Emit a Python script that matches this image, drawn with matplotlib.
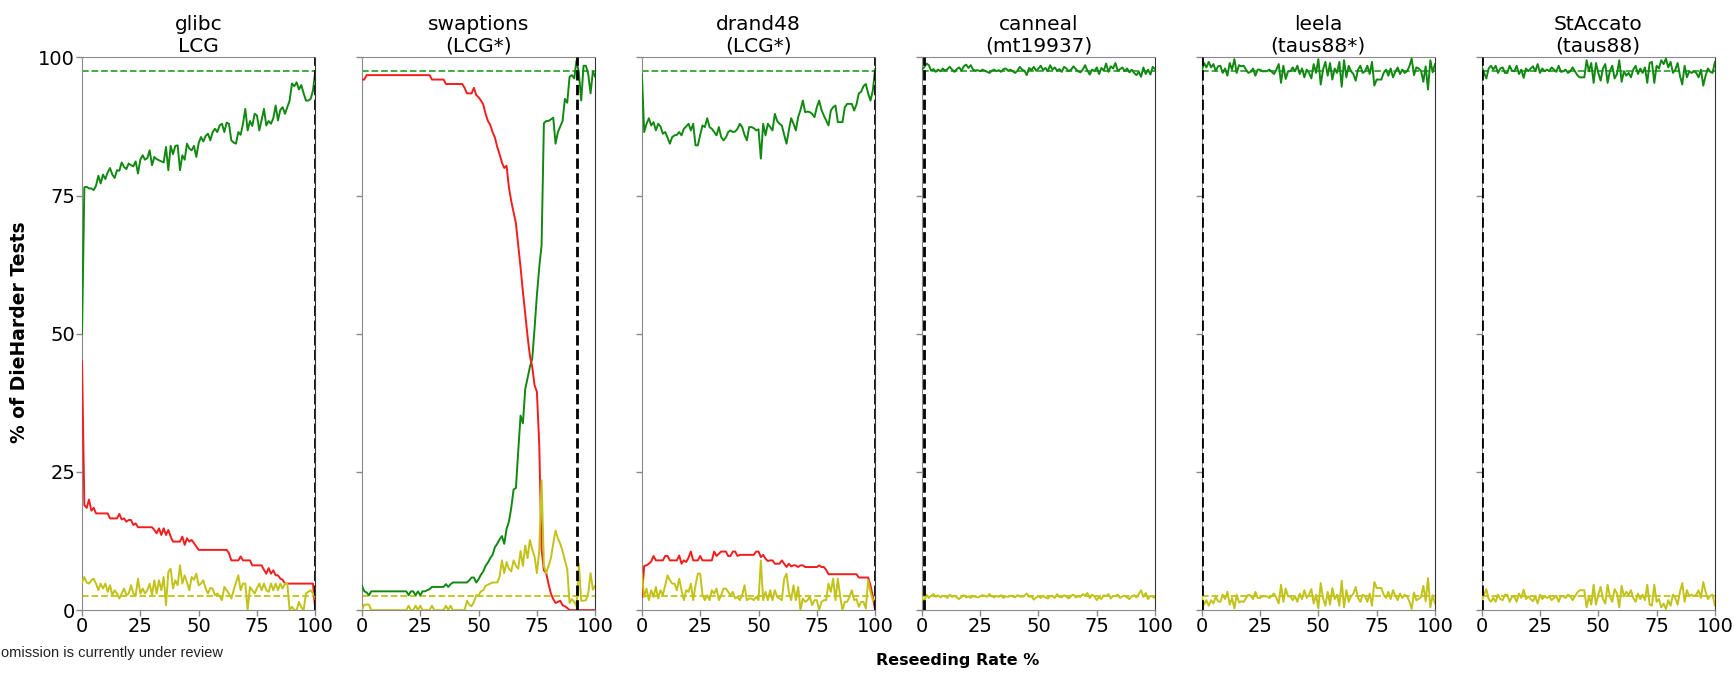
import numpy as np
import matplotlib
matplotlib.use("Agg")
import matplotlib.pyplot as plt

# ---------------- data ----------------
rate = np.arange(0, 101)  # reseeding rate %, one sample per percent

titles = ["glibc\nLCG", "swaptions\n(LCG*)", "drand48\n(LCG*)",
          "canneal\n(mt19937)", "leela\n(taus88*)", "StAccato\n(taus88)"]
cutoff = [100, 92, 100, 1, 0, 0]          # black dashed marker per panel
pass_threshold = 97.5
weak_threshold = 2.5
yticks = [0, 25, 50, 75, 100]
xticks = [0, 25, 50, 75, 100]

glibc_pass = [
    50.0, 76.5, 76.6, 76.3, 76.3, 76.0, 76.8, 78.6, 77.2, 78.8,
    78.0, 79.2, 80.0, 78.8, 78.2, 79.6, 79.5, 81.0, 80.2, 79.8,
    80.8, 80.5, 80.3, 81.2, 79.0, 81.5, 82.3, 81.5, 81.8, 83.2,
    80.5, 82.0, 81.6, 81.4, 81.2, 81.0, 83.8, 79.6, 84.0, 82.5,
    84.0, 84.1, 79.6, 82.3, 81.5, 84.4, 83.5, 83.2, 84.0, 82.0,
    84.5, 85.6, 84.8, 85.8, 86.2, 85.0, 86.5, 87.1, 86.5, 87.7,
    88.0, 86.5, 88.2, 88.0, 85.0, 84.6, 84.4, 86.5, 86.0, 88.0,
    90.7, 86.8, 88.5, 87.6, 89.8, 89.5, 86.8, 88.7, 90.7, 87.7,
    88.5, 88.0, 89.0, 91.3, 88.6, 90.5, 91.0, 89.8, 91.0, 92.2,
    95.3, 94.8, 95.5, 94.2, 95.0, 93.5, 92.2, 92.2, 92.5, 94.0,
    97.5]
glibc_fail = [
    45.0, 19.0, 18.5, 20.0, 18.0, 18.5, 17.5, 17.5, 17.5, 17.5,
    17.5, 17.5, 16.6, 16.6, 16.6, 16.6, 17.4, 16.4, 16.6, 16.0,
    16.3, 16.3, 15.4, 15.7, 15.0, 15.0, 15.0, 15.0, 15.0, 15.0,
    15.0, 14.5, 13.9, 14.8, 13.6, 14.8, 13.6, 14.5, 13.3, 12.4,
    12.4, 12.4, 12.4, 13.3, 11.8, 13.0, 12.4, 12.7, 12.1, 11.5,
    10.9, 10.9, 10.9, 10.9, 10.9, 10.9, 10.9, 10.9, 10.9, 10.9,
    10.9, 10.9, 10.9, 10.3, 9.0, 9.0, 9.0, 9.0, 9.7, 9.0,
    9.0, 9.0, 9.0, 8.1, 8.1, 8.1, 8.1, 8.1, 7.3, 6.6,
    7.6, 6.6, 7.2, 6.3, 6.3, 5.7, 5.5, 4.8, 4.8, 4.8,
    4.8, 4.8, 4.8, 4.8, 4.8, 4.8, 4.8, 4.8, 4.8, 4.8,
    0.0]
glibc_weak = [
    5.0, 6.0, 5.0, 4.8, 5.4, 5.7, 4.8, 3.6, 4.8, 3.9,
    4.8, 3.3, 4.5, 2.7, 3.6, 3.0, 2.1, 3.0, 3.9, 2.7,
    3.0, 4.5, 3.0, 2.7, 5.7, 3.0, 3.9, 3.0, 3.6, 4.8,
    2.7, 5.4, 3.0, 5.4, 3.6, 6.0, 0.9, 6.9, 7.5, 3.9,
    5.4, 4.5, 8.1, 4.8, 6.3, 5.0, 3.6, 6.0, 5.5, 6.6,
    4.5, 4.8, 5.4, 3.9, 3.0, 4.0, 3.9, 2.7, 3.0, 2.5,
    1.8, 4.2, 3.6, 3.0, 2.1, 3.6, 5.0, 6.3, 3.6, 4.8,
    4.8, 0.0, 4.2, 3.6, 3.0, 4.0, 4.8, 3.6, 4.8, 3.6,
    3.3, 4.8, 3.6, 4.8, 3.6, 4.8, 3.9, 4.8, 4.8, 0.0,
    0.6, 0.0, 0.0, 1.5, 0.5, 0.0, 3.0, 3.3, 3.6, 3.0,
    2.4]

swaptions_pass = [
    4.4, 3.4, 3.2, 2.7, 3.4, 3.4, 3.4, 3.4, 3.4, 3.4,
    3.4, 3.4, 3.4, 3.4, 3.4, 3.4, 3.4, 3.4, 3.4, 3.4,
    2.7, 3.4, 3.4, 2.7, 3.4, 2.7, 3.4, 3.4, 3.6, 3.8,
    4.2, 4.2, 4.2, 4.2, 4.2, 4.2, 4.7, 4.2, 4.7, 5.0,
    5.0, 5.0, 5.0, 5.0, 5.0, 5.0, 5.4, 5.9, 5.9, 5.0,
    5.6, 6.4, 7.0, 8.0, 8.6, 9.4, 10.0, 11.4, 12.0, 12.8,
    13.4, 12.0, 14.7, 16.0, 18.5, 21.8, 22.1, 28.8, 35.2, 33.8,
    40.0, 42.0, 44.0, 45.5, 51.0, 57.0, 62.0, 66.0, 88.1, 88.5,
    88.5, 88.8, 89.1, 84.4, 86.5, 87.5, 88.5, 92.5, 91.8, 96.5,
    96.8, 96.2, 99.5, 97.2, 92.2, 98.5, 98.5, 97.0, 93.5, 97.5,
    96.5]
swaptions_fail = [
    96.0, 96.0, 96.8, 96.8, 96.8, 96.8, 96.8, 96.8, 96.8, 96.8,
    96.8, 96.8, 96.8, 96.8, 96.8, 96.8, 96.8, 96.8, 96.8, 96.8,
    96.8, 96.8, 96.8, 96.8, 96.8, 96.8, 96.8, 96.8, 96.8, 96.8,
    96.0, 96.0, 96.0, 96.0, 96.0, 96.0, 95.2, 95.2, 95.2, 95.2,
    95.2, 95.2, 95.2, 95.2, 94.5, 93.5, 93.5, 93.5, 94.5, 93.2,
    92.8, 92.2, 91.5, 89.8, 88.5, 87.8, 86.5, 85.5, 83.8, 82.5,
    81.0, 80.0, 80.4, 76.5, 74.0, 72.0, 70.0, 66.0, 62.0, 57.6,
    53.6, 49.5, 46.0, 44.0, 40.7, 39.5, 30.0, 11.0, 7.2, 6.7,
    4.7, 3.0, 2.0, 1.3, 1.5, 1.7, 0.9, 0.7, 0.4, 0.0,
    0.0, 0.0, 0.0, 0.0, 0.0, 0.0, 0.0, 0.0, 0.0, 0.0,
    0.0]
swaptions_weak = [
    0.0, 1.0, 1.0, 1.0, 0.0, 0.0, 0.0, 0.0, 0.0, 0.0,
    0.0, 0.0, 0.0, 0.0, 0.0, 0.0, 0.0, 0.0, 0.0, 0.0,
    0.8, 0.0, 0.0, 0.8, 0.0, 0.8, 0.0, 0.0, 0.0, 0.0,
    0.8, 0.0, 0.0, 0.0, 0.0, 0.0, 0.8, 0.0, 0.8, 0.0,
    0.0, 0.0, 0.0, 0.0, 0.0, 1.7, 1.0, 0.7, 1.5, 2.7,
    2.7, 3.4, 3.6, 4.4, 4.6, 4.8, 5.0, 5.0, 5.0, 6.0,
    9.0, 6.7, 8.7, 7.5, 7.0, 9.0, 8.0, 7.5, 10.7, 8.0,
    11.7, 9.4, 12.7, 11.0, 9.7, 6.7, 10.7, 23.5, 8.0, 6.7,
    8.0, 9.4, 12.0, 14.4, 13.0, 12.0, 10.7, 9.0, 7.4, 1.3,
    2.0, 1.5, 0.7, 8.4, 1.7, 1.7, 1.8, 3.0, 6.7, 3.7,
    4.4]

drand48_pass = [
    97.0, 86.5, 88.0, 89.0, 87.7, 88.3, 86.8, 88.0, 87.5, 86.2,
    86.5, 85.5, 84.4, 85.6, 85.9, 86.0, 86.5, 85.9, 87.1, 87.5,
    88.0, 86.8, 88.0, 84.1, 84.1, 86.0, 87.7, 87.4, 89.0, 87.4,
    87.1, 86.5, 85.9, 87.4, 85.6, 85.0, 85.5, 86.5, 86.8, 86.5,
    86.6, 87.1, 88.0, 87.4, 86.0, 85.0, 87.4, 87.4, 87.2, 86.8,
    87.0, 81.7, 88.0, 85.9, 88.0, 87.4, 86.8, 89.8, 88.5, 88.0,
    87.7, 86.0, 84.4, 86.8, 89.0, 88.0, 86.8, 89.2, 90.5, 92.2,
    90.1, 90.2, 90.1, 89.8, 89.2, 91.0, 92.2, 90.5, 89.5, 88.6,
    87.7, 90.4, 91.0, 91.3, 88.3, 88.3, 88.3, 91.0, 91.6, 91.6,
    91.6, 90.4, 91.5, 93.5, 93.8, 94.8, 95.2, 93.5, 92.2, 94.0,
    97.9]
drand48_fail = [
    2.4, 8.0, 8.1, 8.4, 8.8, 9.8, 9.0, 9.0, 9.0, 9.0,
    9.8, 9.8, 9.0, 9.0, 9.0, 9.0, 9.9, 8.4, 9.0, 8.7,
    9.5, 10.6, 9.0, 9.0, 9.0, 9.8, 9.0, 9.0, 9.0, 9.0,
    9.0, 10.6, 9.8, 10.2, 10.6, 10.6, 10.6, 9.8, 9.8, 10.6,
    10.6, 9.8, 10.0, 10.0, 10.0, 10.0, 10.0, 10.0, 10.0, 10.6,
    10.6, 9.6, 10.0, 9.3, 8.9, 9.0, 9.0, 8.4, 8.4, 8.4,
    9.0, 8.4, 7.8, 8.4, 7.9, 8.1, 8.1, 7.8, 8.1, 8.1,
    7.8, 7.8, 7.8, 7.8, 7.8, 7.8, 8.1, 7.8, 7.8, 7.3,
    6.5, 6.5, 6.5, 6.5, 6.5, 6.5, 6.5, 6.5, 6.5, 6.5,
    6.5, 6.5, 6.5, 5.9, 5.9, 5.9, 5.9, 5.9, 4.5, 2.5,
    0.0]
drand48_weak = [
    6.6, 2.4, 3.9, 1.8, 3.6, 2.4, 4.2, 2.1, 3.6, 2.7,
    4.5, 6.3, 5.4, 4.8, 4.8, 3.6, 5.7, 3.6, 1.8, 3.6,
    3.3, 4.8, 1.8, 4.5, 6.6, 6.6, 2.7, 1.8, 2.7, 1.8,
    3.6, 3.0, 3.9, 1.8, 2.7, 3.9, 3.9, 3.3, 2.7, 3.3,
    2.1, 2.4, 1.8, 2.7, 4.5, 1.8, 2.1, 2.1, 1.8, 2.4,
    1.8, 9.0, 1.8, 3.3, 1.8, 3.6, 1.8, 3.6, 2.4, 2.1,
    1.8, 5.7, 6.6, 3.3, 1.8, 4.5, 1.8, 4.2, 0.0, 2.1,
    1.5, 1.8, 2.4, 0.9, 1.8, 1.8, 0.0, 1.5, 1.8, 1.8,
    4.8, 3.3, 5.7, 1.8, 5.7, 2.5, 0.0, 1.5, 1.5, 2.4,
    3.6, 1.8, 2.0, 0.6, 1.5, 1.5, 0.3, 5.4, 3.3, 1.8,
    1.8]

canneal_pass = [
    97.8, 98.2, 98.9, 98.6, 97.6, 97.9, 97.4, 97.8, 97.5, 98.0,
    97.6, 97.9, 98.3, 97.8, 97.4, 97.9, 98.2, 97.6, 98.4, 98.7,
    98.1, 98.6, 97.8, 97.6, 97.7, 97.5, 97.8, 97.6, 97.4, 97.2,
    97.6, 97.8, 97.5, 97.7, 97.4, 97.9, 98.0, 97.6, 97.8, 97.5,
    97.2, 97.6, 98.3, 97.8, 97.6, 96.8, 98.1, 97.7, 98.3, 97.6,
    98.0, 98.5, 97.7, 98.1, 97.5, 98.6, 97.8, 98.2, 97.6, 97.9,
    97.4, 98.3, 98.0, 97.5, 97.8, 98.4, 97.9, 97.5, 97.3, 97.8,
    98.6, 97.6, 96.9, 97.8, 97.5, 98.2, 97.0, 98.1, 97.6, 98.9,
    97.4, 98.4, 98.0, 99.0, 97.6, 97.9, 98.2, 97.5, 98.0, 97.3,
    97.8, 97.2, 96.8, 97.4, 96.5, 98.2, 97.0, 97.8, 96.9, 98.3,
    97.9]
canneal_weak = [
    2.4, 1.5, 2.8, 2.2, 2.6, 2.9, 2.4, 2.7, 2.3, 2.6,
    2.5, 2.2, 2.8, 2.4, 2.6, 2.3, 2.0, 2.4, 2.7, 2.3,
    2.5, 2.2, 2.6, 2.4, 2.3, 2.5, 2.7, 2.6, 2.4, 2.9,
    2.5, 2.3, 2.6, 2.4, 2.7, 2.2, 2.5, 2.4, 2.6, 2.5,
    2.3, 2.7, 2.5, 2.4, 2.6, 3.0, 2.4, 2.5, 1.9, 2.3,
    2.5, 2.2, 2.6, 2.3, 2.1, 2.5, 2.6, 2.2, 2.9, 2.4,
    2.3, 2.7, 2.4, 2.1, 2.6, 2.8, 2.3, 2.5, 2.4, 2.9,
    2.6, 3.1, 2.2, 2.8, 2.5, 1.8, 2.4, 2.0, 2.7, 2.5,
    2.9, 2.1, 2.6, 2.5, 2.8, 2.2, 2.5, 2.6, 2.3, 2.0,
    2.5, 2.7, 2.3, 2.9, 3.6, 2.4, 3.1, 2.0, 2.6, 2.4,
    2.2]

leela_pass = [
    97.5, 99.0, 98.2, 99.2, 98.2, 98.8, 97.6, 98.4, 98.5, 97.2,
    98.0, 96.7, 99.0, 97.8, 99.7, 97.2, 98.6, 98.4, 98.5, 97.8,
    97.2, 97.4, 98.0, 96.7, 97.8, 97.8, 97.5, 97.5, 97.5, 97.8,
    97.4, 97.0, 97.8, 98.8, 95.4, 98.5, 96.1, 97.5, 97.5, 98.2,
    97.5, 98.5, 97.0, 98.0, 96.4, 97.8, 97.2, 96.2, 98.8, 97.2,
    99.7, 95.1, 97.8, 99.2, 96.7, 99.0, 96.0, 98.0, 97.2, 99.2,
    94.7, 99.5, 96.4, 98.5, 97.5, 97.0, 95.8, 97.8, 98.5, 97.2,
    97.5, 98.5, 97.0, 99.2, 94.9, 96.0, 96.0, 96.0, 97.2, 97.8,
    96.7, 98.0, 96.4, 97.4, 98.2, 97.0, 97.8, 97.2, 97.5, 98.4,
    99.8, 96.8, 98.2, 98.0, 97.6, 95.6, 98.4, 94.2, 99.5, 97.3,
    98.8]
leela_weak = [
    2.5, 1.0, 1.8, 0.8, 1.8, 1.2, 2.4, 1.6, 1.5, 2.8,
    2.0, 3.3, 1.0, 2.2, 0.3, 2.8, 1.4, 1.6, 1.5, 2.2,
    2.8, 2.6, 2.0, 3.3, 2.2, 2.2, 2.5, 2.5, 2.5, 2.2,
    2.6, 3.0, 2.2, 1.2, 4.6, 1.5, 3.9, 2.5, 2.5, 1.8,
    2.5, 1.5, 3.0, 2.0, 3.6, 2.2, 2.8, 3.8, 1.2, 2.8,
    0.3, 4.9, 2.2, 0.8, 3.3, 1.0, 4.0, 2.0, 2.8, 0.8,
    5.3, 0.5, 3.6, 1.5, 2.5, 3.0, 4.2, 2.2, 1.5, 2.8,
    2.5, 1.5, 3.0, 0.8, 5.1, 4.0, 4.0, 4.0, 2.8, 2.2,
    3.3, 2.0, 3.6, 2.6, 1.8, 3.0, 2.2, 2.8, 2.5, 1.6,
    0.2, 3.2, 1.8, 2.0, 2.4, 4.4, 1.6, 5.8, 0.5, 2.7,
    1.2]

staccato_pass = [
    98.5, 97.2, 96.2, 98.0, 98.5, 97.8, 98.5, 97.2, 98.0, 98.2,
    97.2, 97.2, 98.5, 97.6, 97.5, 98.5, 97.0, 97.8, 96.3, 98.0,
    97.5, 98.0, 98.4, 97.5, 98.8, 97.2, 98.0, 97.5, 97.8, 97.5,
    98.2, 97.8, 97.4, 98.5, 97.4, 97.5, 97.8, 97.2, 97.5, 98.2,
    97.5, 96.8, 96.4, 96.4, 96.4, 99.5, 97.5, 99.0, 95.4, 99.0,
    97.2, 95.8, 98.0, 98.8, 95.4, 97.6, 98.5, 96.2, 97.0, 99.5,
    95.6, 97.5, 96.7, 97.2, 96.4, 97.8, 98.5, 97.0, 98.0, 97.2,
    98.2, 95.4, 99.0, 99.2, 95.4, 98.5, 98.0, 99.5, 98.8, 99.8,
    98.2, 99.2, 97.2, 97.8, 99.0, 96.7, 95.1, 98.5, 96.4, 97.5,
    97.2, 97.5, 97.2, 96.4, 97.8, 94.9, 96.7, 98.0, 97.4, 97.2,
    99.2]
staccato_weak = [
    1.5, 2.8, 3.8, 2.0, 1.5, 2.2, 1.5, 2.8, 2.0, 1.8,
    2.8, 2.8, 1.5, 2.4, 2.5, 1.5, 3.0, 2.2, 3.7, 2.0,
    2.5, 2.0, 1.6, 2.5, 1.2, 2.8, 2.0, 2.5, 2.2, 2.5,
    1.8, 2.2, 2.6, 1.5, 2.6, 2.5, 2.2, 2.8, 2.5, 1.8,
    2.5, 3.2, 3.6, 3.6, 3.6, 0.5, 2.5, 1.0, 4.6, 1.0,
    2.8, 4.2, 2.0, 1.2, 4.6, 2.4, 1.5, 3.8, 3.0, 0.5,
    4.4, 2.5, 3.3, 2.8, 3.6, 2.2, 1.5, 3.0, 2.0, 2.8,
    1.8, 4.6, 1.0, 0.8, 4.6, 1.5, 2.0, 0.5, 1.2, 0.2,
    1.8, 0.8, 2.8, 2.2, 1.0, 3.3, 4.9, 1.5, 3.6, 2.5,
    2.8, 2.5, 2.8, 3.6, 2.2, 5.1, 3.3, 2.0, 2.6, 2.8,
    0.8]

pass_series = [glibc_pass, swaptions_pass, drand48_pass, canneal_pass, leela_pass, staccato_pass]
fail_series = [glibc_fail, swaptions_fail, drand48_fail, None, None, None]
weak_series = [glibc_weak, swaptions_weak, drand48_weak, canneal_weak, leela_weak, staccato_weak]

# ---------------- style ----------------
GREEN = "#118811"
RED = "#f21d1d"
YELLOW = "#c2c21a"
GREEN_DASH = "#35a535"
SPINE_GRAY = "#8a8a8a"

fig, axes = plt.subplots(1, 6, figsize=(17.34, 6.84), dpi=100, sharey=True)
fig.subplots_adjust(left=0.0473, right=0.989, bottom=0.108, top=0.916, wspace=0.2)

for i, ax in enumerate(axes):
    ax.plot(rate, pass_series[i], color=GREEN, lw=1.4, zorder=3)
    if fail_series[i] is not None:
        ax.plot(rate, fail_series[i], color=RED, lw=1.4, zorder=3)
    ax.plot(rate, weak_series[i], color=YELLOW, lw=1.4, zorder=3)
    ax.axhline(pass_threshold, color=GREEN_DASH, ls="--", lw=1.3, zorder=2)
    ax.axhline(weak_threshold, color=YELLOW, ls="--", lw=1.3, zorder=2)
    ax.axvline(cutoff[i], color="black", ls="--", lw=2.0, zorder=4)

    ax.set_xlim(0, 100)
    ax.set_ylim(0, 100)
    ax.set_xticks(xticks)
    ax.set_yticks(yticks)
    ax.set_title(titles[i], fontsize=14.5, pad=4, linespacing=1.2)
    ax.tick_params(axis="both", labelsize=14, color=SPINE_GRAY, length=4, width=1, pad=1)
    for side in ("left", "bottom", "top"):
        ax.spines[side].set_color(SPINE_GRAY)
    ax.spines["right"].set_color("#333333")
    if i > 0:
        ax.tick_params(axis="y", labelleft=False)

fig.text(0.0115, 0.515, "% of DieHarder Tests", rotation=90, fontsize=13.5,
         fontweight="bold", ha="center", va="center")
fig.text(0.5525, 0.035, "Reseeding Rate %", fontsize=11.5, fontweight="bold",
         ha="center", va="center")
fig.text(0.0005, 0.045, "omission is currently under review", fontsize=10.5,
         family=["Liberation Sans", "DejaVu Sans"], color="#222222",
         ha="left", va="center")

fig.savefig("out.png", dpi=100)
